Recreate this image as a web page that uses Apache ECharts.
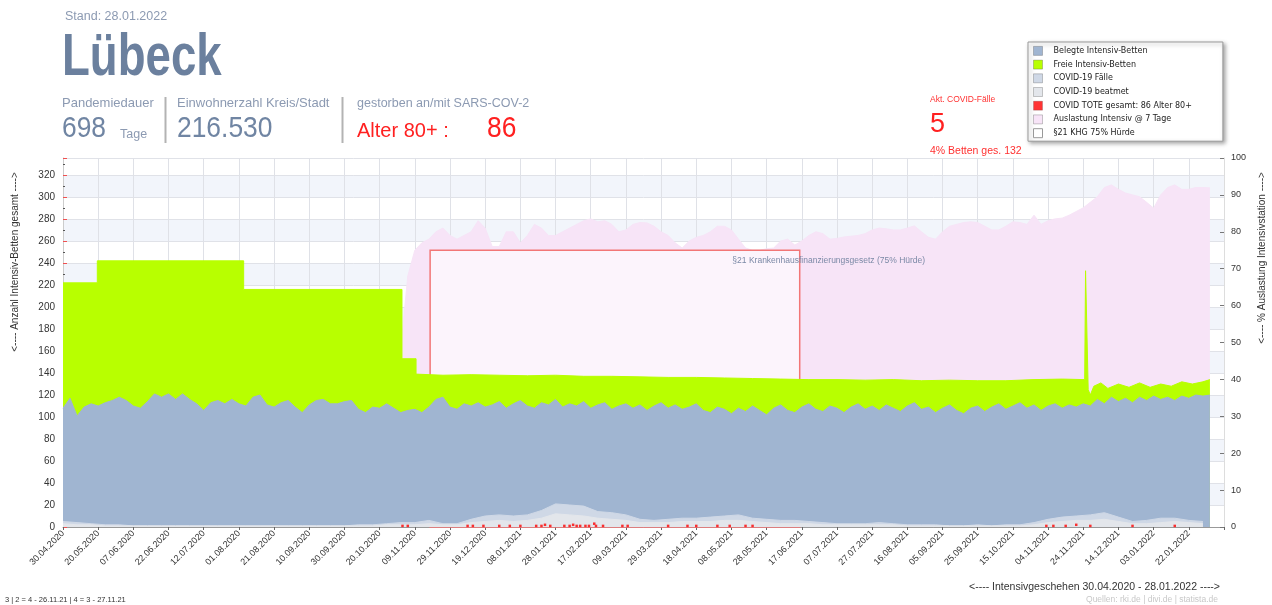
<!DOCTYPE html>
<html><head><meta charset="utf-8">
<script src="https://cdn.jsdelivr.net/npm/echarts@6/dist/echarts.min.js"></script>
<style>html,body{margin:0;padding:0;background:#fff}#c{width:1272px;height:605px}</style>
</head><body><div id="c"></div>
<script>
// ---------- DATA ----------
const tickLabels = ['30.04.2020','20.05.2020','07.06.2020','22.06.2020','12.07.2020','01.08.2020','21.08.2020','10.09.2020','30.09.2020','20.10.2020','09.11.2020','29.11.2020','19.12.2020','08.01.2021','28.01.2021','17.02.2021','09.03.2021','29.03.2021','18.04.2021','08.05.2021','28.05.2021','17.06.2021','07.07.2021','27.07.2021','16.08.2021','05.09.2021','25.09.2021','15.10.2021','04.11.2021','24.11.2021','14.12.2021','03.01.2022','22.01.2022'];
const tickStep = 20;          // days between x-axis labels
const dayMax = 660;

// Belegte Intensiv-Betten, every 4 days starting day 0
const belegtStep = 4;
const belegt = [108,117,101,109,112,110,113,115,118,115,110,108,114,121,118,121,116,121,116,112,
  106,113,115,112,116,112,110,118,120,111,109,113,115,109,104,111,115,116,112,112,
  114,115,107,104,109,108,112,108,104,106,107,104,109,116,118,109,107,112,
  110,113,109,111,114,108,112,115,110,108,113,111,116,109,112,110,114,108,111,113,
  107,110,112,108,111,106,110,113,108,111,107,109,112,106,104,109,107,103,108,105,
  110,106,102,108,111,106,104,109,112,107,105,110,108,104,109,112,107,110,106,111,
  108,105,110,113,107,109,104,108,111,106,103,108,110,105,109,112,107,110,113,108,
  111,106,110,112,108,111,109,112,110,116,112,118,114,117,113,118,115,119,116,118,
  115,119,117,120,119,120];

// Intensiv-Betten gesamt (top of the green area): [day, beds]
const gesamtBetten = [[0,222],[19.5,222],[19.5,242],[102.7,242],[102.7,216],[192.7,216],[192.7,153],[200.7,153],[200.7,139],
  [216,138],[232,138.5],[248,138],[264,137.5],[280,138],[296,137],[312,137],[328,136.5],[344,136],[360,136],[376,135.5],
  [392,135],[408,134.5],[424,134],[440,134],[456,133.5],[472,134],[488,133],[504,133.5],[520,133],[536,133],[552,134],
  [568,134.5],[580.8,134],[581.3,233],[582.3,233],[582.8,125],[584,120],[586,128],[590,131],[594,126],[600,130],[606,127],
  [612,131],[618,127],[624,130],[630,128],[636,132],[642,130],[648,132],[652,134]];

// COVID-19 Fälle / beatmet, every 8 days starting day 0
const covidStep = 8;
const covidFaelle = [5,4,3,2,2, 1,1,1,1,1,1,1,1,1,1,1,1,1,1,1,1, 2,2,3,4,4,6,3,3,
  7,10,11,10,11,15,21,20,19,14,13,11, 7,6,7,8,8,9,10,11,8,7,6,6,5,4,3,
  3,3,4,3,2,2,2,1,1,2,1,2,2, 4,7,9,10,11,13,9,5,6,8,8,6,5];
const covidBeatmet = [3,2,2,1,1, 1,1,1,1,1,1,1,1,1,1,1,1,1,1,1,1, 1,1,2,2,2,3,2,2,
  4,5,6,5,6,8,12,11,10,8,7,6, 4,4,4,5,5,5,6,6,5,4,3,3,3,2,2,
  2,2,2,2,1,1,1,1,1,1,1,1,1, 2,4,5,6,6,7,5,3,3,4,5,4,3];

// COVID-Tote: day index and count
const toteTage   = [193,196,230,233,239,248,254,260,269,272,274,277,285,288,290,292,294,297,299,302,303,307,318,321,344,355,360,372,379,388,392,559,563,570,576,584,608,632];
const toteAnzahl = [1,1,1,1,1,1,1,1,1,1,2,1,1,1,2,1,1,1,1,3,1,1,1,1,1,1,1,1,1,1,1,1,1,1,2,1,1,1];

// Auslastung Intensiv @ 7 Tage (%), every 4 days starting day 192
const auslastungStart = 192;
const auslastungStep = 4;
const auslastung = [48,68,75,77,78,80,81,79,78,79, 80,83,81,76,76,80,80,77,79,82,
  81,79,79,80,81,82,83,83.5,82.7,83, 82,80,80.5,82,82.5,82.4,81.5,80,79,77,
  75.6,77.5,78.5,79,80,81.5,81.5,80.5,78,75.6, 75,75,75.4,75.6,77.5,78,76.4,77.5,79,80,
  79.5,78,78.2,78.6,78.8,79,79.5,80.5,81,80.8, 80.5,80.5,81,81.6,80,78.5,78,80,81.5,82,
  82.5,82.7,82.5,81.5,80.5,80.5,81.5,82.7,82.5,82, 84.5,82,83,83.5,83.7,84.5,85.5,86.5,88,89.5,
  92,92.7,91.5,90.5,90,89.5,88,86.4,90,92, 92.7,91.5,91.5,92,92,91.9];

// §21 KHG 75% Hürde period (day index) and threshold (%)
const khgZeitraum = [208.7, 418.8];
const khgHuerde = 75;

const seriesNames = ['Belegte Intensiv-Betten','Freie Intensiv-Betten','COVID-19 Fälle','COVID-19 beatmet','COVID TOTE gesamt: 86 Alter 80+','Auslastung Intensiv @ 7 Tage','§21 KHG 75% Hürde'];

// ---------- CHART ----------
const pairs = (arr, start, step) => arr.map((v, i) => [start + i * step, v]);
const F = '"Liberation Sans", Arial, sans-serif';
const grey = '#8c9ab2';

const chart = echarts.init(document.getElementById('c'), null, {renderer: 'canvas'});
const areaSeries = (name, data, color, z, yAxisIndex) => ({
  name, type: 'line', data, yAxisIndex: yAxisIndex || 0, z,
  showSymbol: false, symbol: 'none', silent: true,
  itemStyle: {color}, lineStyle: {color, width: 1}, areaStyle: {color, opacity: 1}
});

const option = {
  animation: false,
  backgroundColor: '#fff',
  grid: {left: 63, right: 48, top: 158, bottom: 78, outerBoundsMode: 'none', containLabel: false},
  xAxis: {
    type: 'value', min: 0, max: dayMax, interval: tickStep,
    axisLine: {show: true, lineStyle: {color: '#999'}},
    axisTick: {show: true, length: 3, lineStyle: {color: '#666'}},
    axisLabel: {rotate: 45, fontSize: 9, color: '#333', fontFamily: F, margin: 5,
      formatter: v => tickLabels[Math.round(v / tickStep)] || ''},
    splitLine: {show: true, lineStyle: {color: '#dfe1e7', width: 1}}
  },
  yAxis: [{
    type: 'value', min: 0, max: 335.5, interval: 20, position: 'left',
    axisLine: {show: true, lineStyle: {color: '#ccc'}},
    axisTick: {show: true, inside: true, length: 4, lineStyle: {color: '#f05050'}},
    minorTick: {show: true, splitNumber: 2, length: 2, lineStyle: {color: '#555'}},
    axisLabel: {fontSize: 10, color: '#333', fontFamily: F, margin: 8, showMaxLabel: false},
    splitLine: {show: true, lineStyle: {color: '#e0e2e8'}},
    splitArea: {show: true, areaStyle: {color: ['#ffffff', '#f2f5fb']}}
  }, {
    type: 'value', min: 0, max: 100, interval: 10, position: 'right',
    axisLine: {show: true, lineStyle: {color: '#ddd'}},
    axisTick: {show: true, inside: true, length: 4, lineStyle: {color: '#777'}},
    axisLabel: {fontSize: 9, color: '#333', fontFamily: F, margin: 7},
    splitLine: {show: false}
  }],
  legend: {
    left: 1028, top: 42, orient: 'vertical',
    itemWidth: 9, itemHeight: 9, itemGap: 3.9,
    padding: [4, 31, 3, 5],
    backgroundColor: '#fff', borderColor: '#9a9a9a', borderWidth: 1,
    shadowColor: 'rgba(0,0,0,0.35)', shadowBlur: 4, shadowOffsetX: 2, shadowOffsetY: 2,
    icon: 'rect',
    itemStyle: {borderColor: 'rgba(60,60,60,0.35)', borderWidth: 0.8},
    textStyle: {fontFamily: '"DejaVu Sans", sans-serif', fontSize: 8, color: '#222', padding: [0, 0, 0, 6]},
    selectedMode: false,
    data: seriesNames.map((n, i) => i === 6 ? {name: n, itemStyle: {color: '#fff', borderColor: '#999', borderWidth: 1}} : {name: n})
  },
  series: [
    Object.assign(areaSeries(seriesNames[5], pairs(auslastung, auslastungStart, auslastungStep), '#f7e4f7', 1, 1), {
      markArea: {
        z: 2, silent: true,
        itemStyle: {color: '#fcf4fc', borderColor: '#f27676', borderWidth: 1.5},
        label: {show: true, position: [303, 7], align: 'left', verticalAlign: 'top', fontSize: 8.5, color: '#7b89a6', fontFamily: F,
          formatter: '§21 Krankenhausfinanzierungsgesetz (75% Hürde)'},
        data: [[{xAxis: khgZeitraum[0], yAxis: 0}, {xAxis: khgZeitraum[1], yAxis: khgHuerde}]]
      }
    }),
    areaSeries(seriesNames[1], gesamtBetten, '#b8ff00', 3),
    areaSeries(seriesNames[0], pairs(belegt, 0, belegtStep), '#a0b5d1', 4),
    areaSeries(seriesNames[2], pairs(covidFaelle, 0, covidStep), '#cfd8e6', 5),
    areaSeries(seriesNames[3], pairs(covidBeatmet, 0, covidStep), '#e3e6eb', 6),
    {name: seriesNames[4], type: 'scatter', z: 7, silent: true, symbol: 'rect', symbolSize: [2.5, 2.5],
      itemStyle: {color: '#ff0000'}, data: toteTage.map((d, i) => [d, toteAnzahl[i]])},
    {name: seriesNames[6], type: 'line', data: [], itemStyle: {color: '#fff'}}
  ],
  graphic: {elements: [
    {type: 'text', x: 65, y: 17, style: {text: 'Stand: 28.01.2022', font: '12.5px ' + F, fill: grey, verticalAlign: 'middle'}},
    {type: 'text', x: 62, y: 58, scaleX: 0.76, style: {text: 'Lübeck', font: 'bold 60px ' + F, fill: '#6b809e', verticalAlign: 'middle'}},
    {type: 'text', x: 62, y: 103, style: {text: 'Pandemiedauer', font: '13px ' + F, fill: grey, verticalAlign: 'middle'}},
    {type: 'text', x: 62, y: 129, scaleX: 0.88, style: {text: '698', font: '30px ' + F, fill: '#7085a3', verticalAlign: 'middle'}},
    {type: 'text', x: 120, y: 135, style: {text: 'Tage', font: '12.5px ' + F, fill: grey, verticalAlign: 'middle'}},
    {type: 'line', shape: {x1: 165.5, y1: 97, x2: 165.5, y2: 143}, style: {stroke: '#b3b3b3', lineWidth: 2}},
    {type: 'text', x: 177, y: 103, style: {text: 'Einwohnerzahl Kreis/Stadt', font: '13px ' + F, fill: grey, verticalAlign: 'middle'}},
    {type: 'text', x: 177, y: 129, scaleX: 0.88, style: {text: '216.530', font: '30px ' + F, fill: '#7085a3', verticalAlign: 'middle'}},
    {type: 'line', shape: {x1: 342.5, y1: 97, x2: 342.5, y2: 143}, style: {stroke: '#b3b3b3', lineWidth: 2}},
    {type: 'text', x: 357, y: 104, style: {text: 'gestorben an/mit SARS-COV-2', font: '12.5px ' + F, fill: grey, verticalAlign: 'middle'}},
    {type: 'text', x: 357, y: 131, style: {text: 'Alter 80+ :', font: '20px ' + F, fill: '#ff2020', verticalAlign: 'middle'}},
    {type: 'text', x: 487, y: 129, scaleX: 0.88, style: {text: '86', font: '30px ' + F, fill: '#ff2020', verticalAlign: 'middle'}},
    {type: 'text', x: 930, y: 100, style: {text: 'Akt. COVID-Fälle', font: '8.5px ' + F, fill: '#ff3030', verticalAlign: 'middle'}},
    {type: 'text', x: 930, y: 125, style: {text: '5', font: '27px ' + F, fill: '#ff2020', verticalAlign: 'middle'}},
    {type: 'text', x: 930, y: 151, style: {text: '4% Betten ges. 132', font: '10.5px ' + F, fill: '#ff3030', verticalAlign: 'middle'}},
    {type: 'text', x: 15.5, y: 262, rotation: Math.PI / 2, style: {text: '<---- Anzahl Intensiv-Betten gesamt ---->', font: '10px ' + F, fill: '#333', align: 'center', verticalAlign: 'middle'}},
    {type: 'text', x: 1262, y: 258, rotation: Math.PI / 2, style: {text: '<---- % Auslastung Intensivstation ---->', font: '10px ' + F, fill: '#333', align: 'center', verticalAlign: 'middle'}},
    {type: 'text', x: 1220, y: 587, style: {text: '<---- Intensivgeschehen 30.04.2020 - 28.01.2022 ---->', font: '10.5px ' + F, fill: '#333', align: 'right', verticalAlign: 'middle'}},
    {type: 'text', x: 1218, y: 600, style: {text: 'Quellen: rki.de | divi.de | statista.de', font: '8.5px ' + F, fill: '#c8c8c8', align: 'right', verticalAlign: 'middle'}},
    {type: 'text', x: 5, y: 600, style: {text: '3 | 2 = 4 - 26.11.21 | 4 = 3 - 27.11.21', font: '7.5px ' + F, fill: '#333', verticalAlign: 'middle'}}
  ]}
};
chart.setOption(option);
</script>
</body></html>
